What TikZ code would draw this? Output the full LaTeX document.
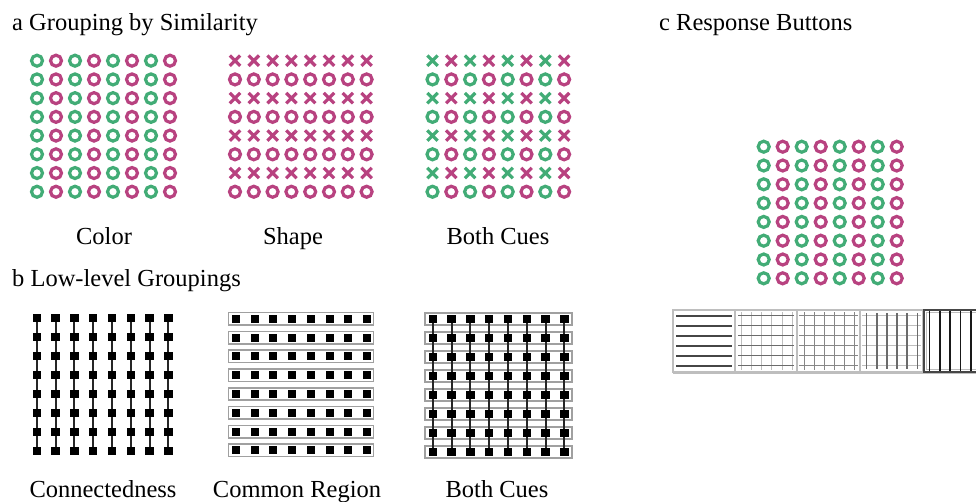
\documentclass[tikz,border=0pt]{standalone}
\usepackage{fontspec}
\setmainfont{Liberation Serif}
\definecolor{cgreen}{RGB}{66,172,118}
\definecolor{cmag}{RGB}{184,66,128}
\definecolor{rgray}{RGB}{160,160,160}
\definecolor{bdark}{RGB}{70,70,70}
\definecolor{blight}{RGB}{190,190,190}
\definecolor{bmid}{RGB}{135,135,135}
\tikzset{
  ring/.style={line width=3.2pt},
  xmk/.style={line width=3.2pt},
  sqm/.style={fill=black},
  conn/.style={line width=2pt, black!85},
  region/.style={draw=rgray, line width=1.6pt},
  lbl/.style={font=\fontsize{24.5}{28}\selectfont, anchor=base, inner sep=0pt},
  ttl/.style={font=\fontsize{24.5}{28}\selectfont, anchor=base west, inner sep=0pt},
  btn/.style={draw=blight, line width=1.2pt, fill=white},
  btnsel/.style={draw=bdark, line width=1.8pt, fill=white},
}
\begin{document}
\begin{tikzpicture}[x=1pt,y=-1pt]
\useasboundingbox (0,0) rectangle (976,501);
\begin{scope}
\clip (0,0) rectangle (976,501);
% titles
\node[ttl] (ta) at (12,30) {a Grouping by Similarity};
\node[ttl] (tb) at (12,286) {b Low-level Groupings};
\node[ttl] (tc) at (659,30) {c Response Buttons};
% labels
\node[lbl] (l1) at (104,244) {Color};
\node[lbl] (l2) at (293,244) {Shape};
\node[lbl] (l3) at (498,244) {Both Cues};
\node[lbl] (l4) at (103,497) {Connectedness};
\node[lbl] (l5) at (297,497) {Common Region};
\node[lbl] (l6) at (497,497) {Both Cues};
% a: Color grid
\foreach \i in {0,...,7}{
  \pgfmathsetmacro{\cc}{mod(\i,2)==0 ? 1 : 0}
  \ifdim\cc pt>0.5pt \def\col{cgreen}\else\def\col{cmag}\fi
  \foreach \j in {0,...,7}{
    \draw[ring,\col] ({37+19*\i},{60.7+18.72*\j}) circle[radius=5.5pt];
  }
}
% a: Shape grid
\foreach \i in {0,...,7}{
  \foreach \j in {0,2,4,6}{
    \draw[xmk,cmag] ({235+18.8*\i-5.2},{60.7+18.72*\j-5.2}) -- ++(10.4,10.4)
                    ({235+18.8*\i-5.2},{60.7+18.72*\j+5.2}) -- ++(10.4,-10.4);
  }
  \foreach \j in {1,3,5,7}{
    \draw[ring,cmag] ({235+18.8*\i},{60.7+18.72*\j}) circle[radius=5.5pt];
  }
}
% a: Both cues
\foreach \i in {0,...,7}{
  \pgfmathsetmacro{\cc}{mod(\i,2)==0 ? 1 : 0}
  \ifdim\cc pt>0.5pt \def\col{cgreen}\else\def\col{cmag}\fi
  \foreach \j in {0,2,4,6}{
    \draw[xmk,\col] ({432.5+18.8*\i-5.2},{60.7+18.72*\j-5.2}) -- ++(10.4,10.4)
                    ({432.5+18.8*\i-5.2},{60.7+18.72*\j+5.2}) -- ++(10.4,-10.4);
  }
  \foreach \j in {1,3,5,7}{
    \draw[ring,\col] ({432.5+18.8*\i},{60.7+18.72*\j}) circle[radius=5.5pt];
  }
}
% b: Connectedness
\foreach \i in {0,...,7}{
  \draw[conn] ({36.7+18.8*\i},318) -- ({36.7+18.8*\i},{318+19*7});
  \foreach \j in {0,...,7}{
    \fill[sqm] ({36.7+18.8*\i-4.2},{318+19*\j-4.2}) rectangle ++(8.4,8.4);
  }
}
% b: Common region
\foreach \j in {0,...,7}{
  \draw[region] (228.3,{318.8+18.8*\j-6.2}) rectangle (373.3,{318.8+18.8*\j+6.2});
  \foreach \i in {0,...,7}{
    \fill[sqm] ({236+18.7*\i-4},{318.8+18.8*\j-4}) rectangle ++(8,8);
  }
}
% b: Both cues
\foreach \j in {0,...,7}{
  \draw[region] (425,{318.7+19*\j-6}) rectangle (571.7,{318.7+19*\j+6});
}
\foreach \i in {0,...,7}{
  \draw[conn] ({432.8+18.8*\i},318.7) -- ({432.8+18.8*\i},{318.7+19*7});
  \foreach \j in {0,...,7}{
    \fill[sqm] ({432.8+18.8*\i-4.2},{318.7+19*\j-4.2}) rectangle ++(8.4,8.4);
  }
}
% c: stimulus
\foreach \i in {0,...,7}{
  \pgfmathsetmacro{\cc}{mod(\i,2)==0 ? 1 : 0}
  \ifdim\cc pt>0.5pt \def\col{cgreen}\else\def\col{cmag}\fi
  \foreach \j in {0,...,7}{
    \draw[ring,\col] ({763.7+19*\i},{146.7+18.8*\j}) circle[radius=5.5pt];
  }
}
% c: buttons
\draw[blight, line width=1.5pt] (673,373) -- (976,373);
% button 1: horizontal
\draw[btn] (673,310) rectangle (735,372);
\foreach \k in {0,...,5}{
  \draw[bdark, line width=1.5pt] (676,{315.8+10*\k}) -- (732,{315.8+10*\k});
}
% button 2: horizontal dark, vertical light
\draw[btn] (735,310) rectangle (797,372);
\foreach \k in {0,...,5}{
  \draw[blight, line width=1pt] ({741+10.3*\k},312) -- ({741+10.3*\k},370);
}
\foreach \k in {0,...,5}{
  \draw[bdark!80, line width=1.3pt] (738,{315.8+10*\k}) -- (794,{315.8+10*\k});
}
% button 3: grid
\draw[btn] (797,310) rectangle (860,372);
\foreach \k in {0,...,5}{
  \draw[bmid, line width=1pt] ({804+10.1*\k},312) -- ({804+10.1*\k},370);
  \draw[bmid, line width=1pt] (799,{315.8+10*\k}) -- (858,{315.8+10*\k});
}
% button 4: vertical dark, horizontal light
\draw[btn] (860,310) rectangle (923,372);
\foreach \k in {0,...,5}{
  \draw[blight, line width=1pt] (862,{315.8+10*\k}) -- (921,{315.8+10*\k});
}
\foreach \k in {0,...,5}{
  \draw[bdark!80, line width=1.4pt] ({866.7+10.1*\k},313) -- ({866.7+10.1*\k},369);
}
% button 5: selected, vertical black
\draw[btnsel] (924,310) rectangle (990,372);
\draw[blight, line width=1pt] (926.5,312.5) rectangle (990,369.5);
\foreach \k in {0,...,4}{
  \draw[black!90, line width=1.6pt] ({929.5+10.3*\k},311) -- ({929.5+10.3*\k},371);
}
\end{scope}
\end{tikzpicture}
\end{document}
